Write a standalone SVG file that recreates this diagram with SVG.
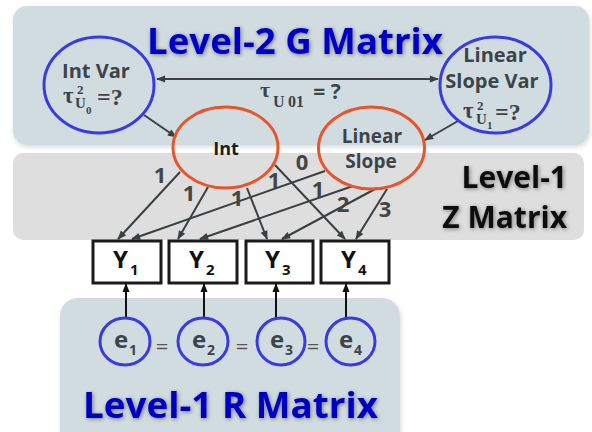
<svg xmlns="http://www.w3.org/2000/svg" width="592" height="432" viewBox="0 0 592 432">
<defs>
<style>
.panel{fill:#d1dce1}
.zpanel{fill:#dedede}
.title{font-family:"Open Sans","Noto Sans",sans-serif;font-weight:bold;fill:#0000c4}
.ztitle{font-family:"Open Sans","Noto Sans",sans-serif;font-weight:bold;fill:#111;text-anchor:end;font-size:30px}
.lbl{font-family:"Open Sans","Noto Sans",sans-serif;font-weight:bold;fill:#3b4449;text-anchor:middle}
.ser{font-family:"Liberation Serif","DejaVu Serif",serif;font-weight:bold;fill:#3b4449}
.num{font-family:"Open Sans","Noto Sans",sans-serif;font-weight:bold;fill:#454545;font-size:22px;text-anchor:middle}
.ylab{font-family:"Open Sans","Noto Sans",sans-serif;font-weight:bold;fill:#111}
.elab{font-family:"Open Sans","Noto Sans",sans-serif;font-weight:bold;fill:#3b4449}
.eq{font-family:"Open Sans","Noto Sans",sans-serif;fill:#555;font-size:22px;text-anchor:middle}
.blue{fill:none;stroke:#3a3ae4;stroke-width:3}
.orange{fill:none;stroke:#e4572e;stroke-width:3}
.box{fill:#fff;stroke:#1a1a1a;stroke-width:3}
.conn{stroke:#3a3f42;stroke-width:2;fill:none;marker-end:url(#ah)}
.econn{stroke:#111;stroke-width:2;fill:none;marker-end:url(#ahk)}
</style>
<marker id="ah" viewBox="0 0 10 10" refX="9" refY="5" markerWidth="10" markerHeight="9" markerUnits="userSpaceOnUse" orient="auto-start-reverse">
<path d="M0,1 L10,5 L0,9 z" fill="#3a3f42"/>
</marker>
<marker id="ahk" viewBox="0 0 10 10" refX="9" refY="5" markerWidth="9" markerHeight="9" markerUnits="userSpaceOnUse" orient="auto">
<path d="M0,1 L10,5 L0,9 z" fill="#111"/>
</marker>
<filter id="glow" x="-10%" y="-30%" width="120%" height="160%">
<feDropShadow dx="1" dy="1" stdDeviation="2" flood-color="#000" flood-opacity="0.45"/>
</filter>
<filter id="psh" x="-5%" y="-10%" width="110%" height="120%">
<feDropShadow dx="1" dy="2" stdDeviation="2" flood-color="#000" flood-opacity="0.15"/>
</filter>
</defs>

<g id="panels">
<rect class="panel" x="13" y="6" width="576" height="139" rx="14" filter="url(#psh)"/>
<rect class="zpanel" x="13" y="153" width="571" height="87" rx="10"/>
<rect class="panel" x="60" y="298" width="340" height="150" rx="18" filter="url(#psh)"/>
</g>

<g id="titles">
<text class="title" x="147" y="54" font-size="36" textLength="296" lengthAdjust="spacingAndGlyphs" filter="url(#glow)">Level-2 G Matrix</text>
<text class="ztitle" x="567" y="188" filter="url(#glow)">Level-1</text>
<text class="ztitle" x="567" y="228" filter="url(#glow)">Z Matrix</text>
<text class="title" x="83" y="418" font-size="35" textLength="295" lengthAdjust="spacingAndGlyphs" filter="url(#glow)">Level-1 R Matrix</text>
</g>

<g id="connectors">
<line x1="157" y1="79" x2="438" y2="79" class="conn" style="marker-start:url(#ah)"/>
<line x1="144" y1="115" x2="176" y2="137" class="conn"/>
<line x1="458" y1="121" x2="425" y2="140" class="conn"/>
<line x1="180" y1="172" x2="118" y2="239" class="conn"/>
<line x1="208" y1="187" x2="178" y2="239" class="conn"/>
<line x1="247" y1="188" x2="267" y2="239" class="conn"/>
<line x1="275" y1="165" x2="345" y2="239" class="conn"/>
<line x1="325" y1="171" x2="132" y2="239" class="conn"/>
<line x1="353" y1="186" x2="200" y2="239" class="conn"/>
<line x1="377" y1="188" x2="282" y2="239" class="conn"/>
<line x1="387" y1="189" x2="356" y2="239" class="conn"/>
<line x1="126" y1="318" x2="126" y2="284" class="econn"/>
<line x1="204" y1="318" x2="204" y2="284" class="econn"/>
<line x1="276" y1="318" x2="276" y2="284" class="econn"/>
<line x1="346" y1="318" x2="346" y2="284" class="econn"/>
<text class="num" x="160" y="183">1</text>
<text class="num" x="189" y="201">1</text>
<text class="num" x="237" y="206">1</text>
<text class="num" x="274" y="188">1</text>
<text class="num" x="302" y="170">0</text>
<text class="num" x="318" y="197">1</text>
<text class="num" x="343" y="212">2</text>
<text class="num" x="385" y="217">3</text>
<text class="ser" x="260" y="97" font-size="22">τ</text>
<text class="ser" x="273" y="107" font-size="16">U</text>
<text class="ser" x="288" y="107" font-size="16">01</text>
<text class="lbl" x="327" y="99" font-size="21">= ?</text>
</g>

<g id="intvar">
<ellipse class="blue" cx="99" cy="85" rx="55" ry="48"/>
<text class="lbl" x="96" y="78" font-size="20">Int Var</text>
<text class="ser" x="63" y="103" font-size="23">τ</text>
<text class="ser" x="77" y="94" font-size="13">2</text>
<text class="ser" x="75" y="108" font-size="15">U</text>
<text class="ser" x="86" y="114" font-size="11">0</text>
<text class="ser" x="97" y="105" font-size="24">=?</text>
</g>

<g id="slopevar">
<ellipse class="blue" cx="495.5" cy="85" rx="55.5" ry="48"/>
<text class="lbl" x="495" y="62" font-size="20">Linear</text>
<text class="lbl" x="492" y="88" font-size="20">Slope Var</text>
<text class="ser" x="463" y="118" font-size="23">τ</text>
<text class="ser" x="477" y="110" font-size="13">2</text>
<text class="ser" x="476" y="124" font-size="15">U</text>
<text class="ser" x="487" y="129" font-size="11">1</text>
<text class="ser" x="495" y="120" font-size="24">=?</text>
</g>

<g id="int">
<ellipse class="orange" cx="225.5" cy="147.5" rx="52.5" ry="40.5"/>
<text class="lbl" x="226" y="155" font-size="18" style="fill:#1c1c1c">Int</text>
</g>

<g id="slope">
<ellipse class="orange" cx="371.5" cy="148" rx="53" ry="41"/>
<text class="lbl" x="372" y="143" font-size="19">Linear</text>
<text class="lbl" x="371" y="168" font-size="19">Slope</text>
</g>

<g id="y1"><rect class="box" x="93" y="241" width="68" height="42"/><text class="ylab" x="113" y="268" font-size="24">Y</text><text class="ylab" x="130" y="275" font-size="15">1</text></g>
<g id="y2"><rect class="box" x="169" y="241" width="68" height="42"/><text class="ylab" x="189" y="268" font-size="24">Y</text><text class="ylab" x="206" y="275" font-size="15">2</text></g>
<g id="y3"><rect class="box" x="246" y="241" width="67" height="42"/><text class="ylab" x="265" y="268" font-size="24">Y</text><text class="ylab" x="282" y="275" font-size="15">3</text></g>
<g id="y4"><rect class="box" x="321" y="241" width="68" height="42"/><text class="ylab" x="341" y="268" font-size="24">Y</text><text class="ylab" x="358" y="275" font-size="15">4</text></g>

<g id="e1"><ellipse class="blue" cx="125" cy="341.5" rx="25" ry="23.5"/><text class="elab" x="114" y="348" font-size="24">e</text><text class="elab" x="129" y="355" font-size="14">1</text></g>
<g id="e2"><ellipse class="blue" cx="203" cy="341.5" rx="25" ry="23.5"/><text class="elab" x="192" y="348" font-size="24">e</text><text class="elab" x="207" y="355" font-size="14">2</text></g>
<g id="e3"><ellipse class="blue" cx="281" cy="341.5" rx="24" ry="23.5"/><text class="elab" x="270" y="348" font-size="24">e</text><text class="elab" x="285" y="355" font-size="14">3</text></g>
<g id="e4"><ellipse class="blue" cx="350.5" cy="341.5" rx="24.5" ry="23.5"/><text class="elab" x="339" y="348" font-size="24">e</text><text class="elab" x="354" y="355" font-size="14">4</text></g>

<g id="equals">
<text class="eq" x="162" y="354">=</text>
<text class="eq" x="242" y="354">=</text>
<text class="eq" x="313" y="354">=</text>
</g>
</svg>
